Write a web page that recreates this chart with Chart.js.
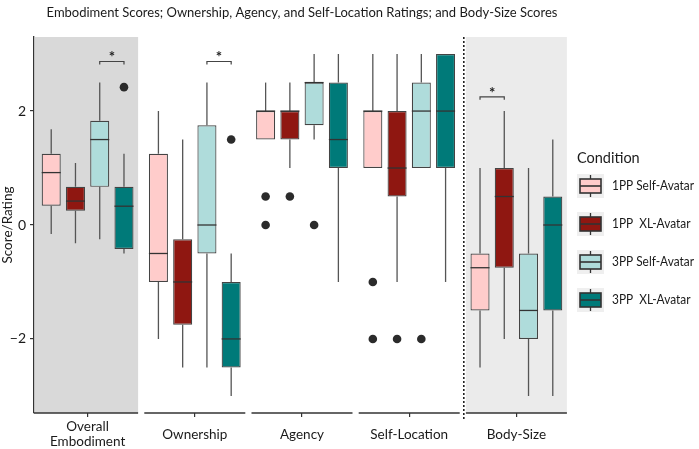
<!DOCTYPE html>
<html>
<head>
<meta charset="utf-8">
<script src="https://cdn.jsdelivr.net/npm/chart.js@4.4.1/dist/chart.umd.min.js"></script>
<style>
  html, body { margin: 0; padding: 0; background: #fff; }
</style>
</head>
<body>
<canvas id="chart" width="699" height="449"></canvas>
<script>
// facets and groups
var panels = [["Overall", "Embodiment"], "Ownership", "Agency", "Self-Location", "Body-Size"];
var conditions = ["1PP Self-Avatar", "1PP  XL-Avatar", "3PP Self-Avatar", "3PP  XL-Avatar"];
var fills = ["#ffcccb", "#8f1711", "#afdcdb", "#007a79"];

// [lower whisker, Q1, median, Q3, upper whisker], one row per panel
var self1PP = [[-0.16, 0.34, 0.92, 1.25, 1.68], [-2, -1, -0.5, 1.25, 2], [1.5, 1.5, 2, 2, 2.5], [1, 1, 2, 2, 3], [-2.5, -1.5, -0.75, -0.5, 1]];
var xl1PP   = [[-0.32, 0.25, 0.42, 0.67, 1.09], [-2.5, -1.75, -1, -0.25, 1.5], [1, 1.5, 2, 2, 2.5], [-1, 0.5, 1, 2, 3], [-2, -0.75, 0.5, 1, 2]];
var self3PP = [[-0.25, 0.67, 1.5, 1.83, 2.5], [-2.5, -0.5, 0, 1.75, 2.5], [1.5, 1.75, 2.5, 2.5, 3], [1, 1, 2, 2.5, 3], [-3, -2, -1.5, -0.5, 1]];
var xl3PP   = [[-0.5, -0.42, 0.33, 0.67, 1.25], [-3, -2.5, -2, -1, -0.5], [-1, 1, 1.5, 2.5, 3], [-1, 1, 2, 3, 3], [-3, -1.5, 0, 0.5, 1.5]];

// outliers as [panel, value]
var out1PPSelf = [[2, 0.5], [2, 0], [3, -1], [3, -2]];
var out1PPXL   = [[2, 0.5], [3, -2]];
var out3PPSelf = [[2, 0], [3, -2]];
var out3PPXL   = [[0, 2.42], [1, 1.5]];

// significance brackets
var sigPanel = [0, 1, 4];
var sigFrom  = [2, 2, 0];
var sigTo    = [3, 3, 1];
var sigY     = [2.87, 2.87, 2.25];

var yTicks = [-2, 0, 2];

var stats = [self1PP, xl1PP, self3PP, xl3PP];
var outliers = [out1PPSelf, out1PPXL, out3PPSelf, out3PPXL];

var FONT = "Lato, 'Open Sans', sans-serif";
Chart.defaults.font.family = FONT;
Chart.defaults.color = "#1a1a1a";

var halfPanel = 50.5;

var boxPlugin = {
	id: "boxes",
	beforeDraw: function(chart) {
		var ctx = chart.ctx, a = chart.chartArea, x = chart.scales.x;
		ctx.save();
		// shaded facets
		var c0 = x.getPixelForValue(0);
		ctx.fillStyle = "#d9d9d9";
		ctx.fillRect(a.left + 1, a.top, c0 + halfPanel - a.left - 1, a.bottom - a.top);
		var c4 = x.getPixelForValue(4);
		ctx.fillStyle = "#ebebeb";
		ctx.fillRect(c4 - halfPanel, a.top, 2 * halfPanel, a.bottom - a.top);
		// dotted divider
		ctx.strokeStyle = "#222";
		ctx.lineWidth = 1.6;
		ctx.setLineDash([2, 2]);
		var dx = (x.getPixelForValue(3) + c4) / 2 + 1;
		ctx.beginPath();
		ctx.moveTo(dx, a.top);
		ctx.lineTo(dx, a.bottom + 6);
		ctx.stroke();
		ctx.setLineDash([]);
		// per-facet baselines
		ctx.strokeStyle = "#333";
		ctx.lineWidth = 1.3;
		for (var i = 0; i < panels.length; i++) {
			var c = x.getPixelForValue(i);
			var l = i == 0 ? a.left : c - halfPanel;
			ctx.beginPath();
			ctx.moveTo(l, a.bottom);
			ctx.lineTo(c + halfPanel, a.bottom);
			ctx.stroke();
		}
		ctx.restore();
	},
	beforeDatasetsDraw: function(chart) {
		var ctx = chart.ctx, y = chart.scales.y;
		ctx.save();
		ctx.strokeStyle = "#555";
		ctx.lineWidth = 1.3;
		stats.forEach(function(s, d) {
			chart.getDatasetMeta(d).data.forEach(function(bar, i) {
				ctx.beginPath();
				ctx.moveTo(bar.x, y.getPixelForValue(s[i][0]));
				ctx.lineTo(bar.x, y.getPixelForValue(s[i][1]));
				ctx.moveTo(bar.x, y.getPixelForValue(s[i][3]));
				ctx.lineTo(bar.x, y.getPixelForValue(s[i][4]));
				ctx.stroke();
			});
		});
		ctx.restore();
	},
	afterDatasetsDraw: function(chart) {
		var ctx = chart.ctx, y = chart.scales.y;
		ctx.save();
		// medians
		ctx.strokeStyle = "#333";
		ctx.lineWidth = 1.3;
		stats.forEach(function(s, d) {
			chart.getDatasetMeta(d).data.forEach(function(bar, i) {
				var py = y.getPixelForValue(s[i][2]);
				ctx.beginPath();
				ctx.moveTo(bar.x - bar.width / 2, py);
				ctx.lineTo(bar.x + bar.width / 2, py);
				ctx.stroke();
			});
		});
		// outliers
		ctx.fillStyle = "#2b2b2b";
		outliers.forEach(function(o, d) {
			var bars = chart.getDatasetMeta(d).data;
			o.forEach(function(p) {
				ctx.beginPath();
				ctx.arc(bars[p[0]].x, y.getPixelForValue(p[1]), 4.3, 0, Math.PI * 2);
				ctx.fill();
			});
		});
		// significance brackets
		ctx.strokeStyle = "#444";
		ctx.lineWidth = 1.2;
		ctx.fillStyle = "#222";
		ctx.font = "bold 15px " + FONT;
		ctx.textAlign = "center";
		ctx.textBaseline = "middle";
		for (var k = 0; k < sigPanel.length; k++) {
			var x1 = chart.getDatasetMeta(sigFrom[k]).data[sigPanel[k]].x;
			var x2 = chart.getDatasetMeta(sigTo[k]).data[sigPanel[k]].x;
			var py = y.getPixelForValue(sigY[k]);
			ctx.beginPath();
			ctx.moveTo(x1, py + 3);
			ctx.lineTo(x1, py);
			ctx.lineTo(x2, py);
			ctx.lineTo(x2, py + 3);
			ctx.stroke();
			ctx.fillText("*", (x1 + x2) / 2, py - 4);
		}
		ctx.restore();
	},
	afterDraw: function(chart) {
		var ctx = chart.ctx, a = chart.chartArea;
		ctx.save();
		// title
		ctx.fillStyle = "#1a1a1a";
		ctx.font = "13px " + FONT;
		ctx.textAlign = "center";
		ctx.textBaseline = "middle";
		ctx.fillText("Embodiment Scores; Ownership, Agency, and Self-Location Ratings; and Body-Size Scores", (a.left + a.right) / 2, 13);
		// legend
		ctx.textAlign = "left";
		ctx.font = "14.5px " + FONT;
		ctx.fillText("Condition", 577, 158);
		ctx.font = "13.5px " + FONT;
		conditions.forEach(function(name, i) {
			var yc = 186 + i * 38;
			ctx.fillStyle = "#efefef";
			ctx.fillRect(577, yc - 12, 27, 24);
			ctx.strokeStyle = "#333";
			ctx.lineWidth = 1.3;
			ctx.beginPath();
			ctx.moveTo(590.5, yc - 11);
			ctx.lineTo(590.5, yc + 11);
			ctx.stroke();
			ctx.fillStyle = fills[i];
			ctx.fillRect(580, yc - 7, 21, 14);
			ctx.lineWidth = 1.6;
			ctx.strokeRect(580, yc - 7, 21, 14);
			ctx.beginPath();
			ctx.moveTo(580, yc);
			ctx.lineTo(601, yc);
			ctx.stroke();
			ctx.fillStyle = "#1a1a1a";
			// the source face is condensed, so squeeze the text a little
			ctx.fillText(name, 612, yc, ctx.measureText(name).width * 0.88);
		});
		ctx.restore();
	}
};

var datasets = conditions.map(function(name, d) {
	return {
		label: name,
		data: stats[d].map(function(s) { return [s[1], s[3]]; }),
		backgroundColor: fills[d],
		borderColor: "#444",
		borderWidth: 1.2,
		borderSkipped: false,
		categoryPercentage: 0.905,
		barPercentage: 0.785
	};
});

new Chart(document.getElementById("chart"), {
	type: "bar",
	data: { labels: panels, datasets: datasets },
	plugins: [boxPlugin],
	options: {
		responsive: false,
		animation: false,
		layout: { padding: { top: 37, right: 129, left: 0, bottom: 0 } },
		plugins: { legend: { display: false }, tooltip: { enabled: false }, title: { display: false } },
		scales: {
			x: {
				offset: true,
				grid: { offset: false, drawOnChartArea: false, tickLength: 4, color: "#333", lineWidth: 1.2 },
				border: { display: false },
				ticks: { color: "#1a1a1a", font: { size: 13.5, lineHeight: 1.1 }, padding: 10, maxRotation: 0, autoSkip: false, crossAlign: "center" },
				afterFit: function(s) { s.height = 36; }
			},
			y: {
				min: -3.3,
				max: 3.3,
				afterBuildTicks: function(s) { s.ticks = yTicks.map(function(v) { return { value: v }; }); },
				grid: { drawOnChartArea: false, tickLength: 4, color: "#333", lineWidth: 1.2 },
				border: { display: true, color: "#333", width: 1.3 },
				ticks: {
					color: "#1a1a1a",
					font: { size: 14 },
					padding: 4,
					callback: function(v) { return v < 0 ? "\u2212" + Math.abs(v) : String(v); }
				},
				title: { display: true, text: "Score/Rating", color: "#1a1a1a", font: { size: 13.5 }, padding: 0 },
				afterFit: function(s) { s.width = 34; }
			}
		}
	}
});
</script>
</body>
</html>
